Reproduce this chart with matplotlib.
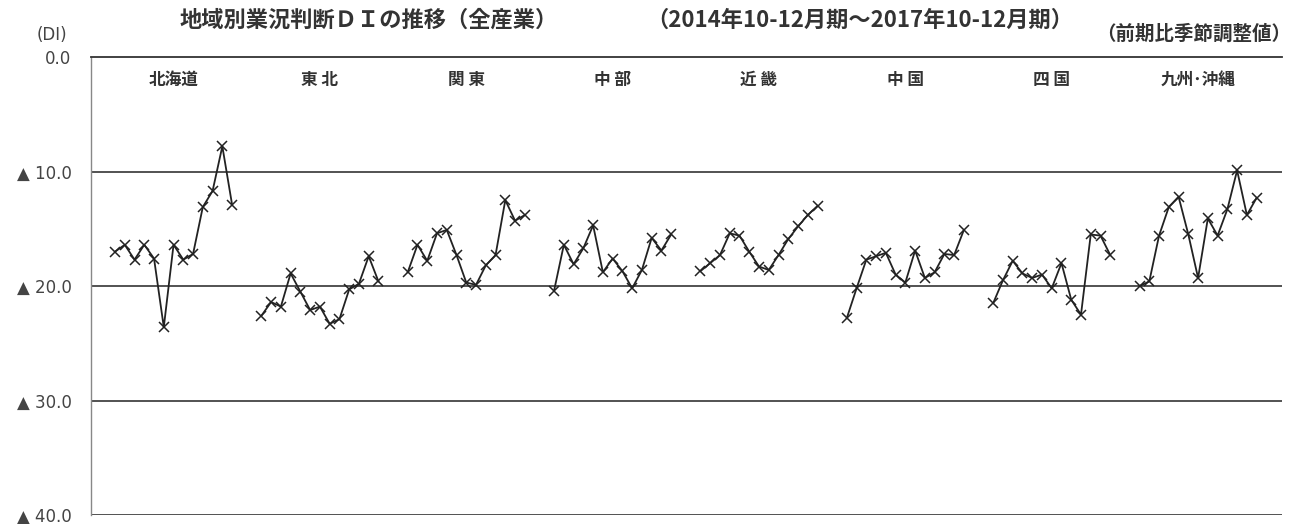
import matplotlib
matplotlib.use("Agg")
import matplotlib.pyplot as plt
from matplotlib.ticker import FixedLocator

plt.rcParams['font.family'] = ['Noto Sans CJK JP', 'DejaVu Sans']

# Regions and quarterly business conditions DI (2014 Q4 .. 2017 Q4, seasonally adjusted)
regions = ["北海道", "東 北", "関 東", "中 部", "近 畿", "中 国", "四 国", "九州･沖縄"]

hokkaido = [-17.0, -16.4, -17.7, -16.4, -17.6, -23.6, -16.4, -17.7, -17.2, -13.1, -11.7, -7.8, -12.9]
tohoku   = [-22.6, -21.4, -21.8, -18.9, -20.5, -22.1, -21.8, -23.3, -22.9, -20.3, -19.8, -17.4, -19.6]
kanto    = [-18.8, -16.4, -17.8, -15.4, -15.1, -17.3, -19.7, -19.9, -18.2, -17.3, -12.5, -14.3, -13.8]
chubu    = [-20.4, -16.4, -18.1, -16.7, -14.7, -18.8, -17.6, -18.7, -20.2, -18.6, -15.8, -16.9, -15.5]
kinki    = [-18.7, -18.0, -17.3, -15.4, -15.6, -17.0, -18.3, -18.6, -17.3, -15.9, -14.8, -13.8, -13.0]
chugoku  = [-22.8, -20.2, -17.7, -17.4, -17.1, -19.0, -19.7, -16.9, -19.3, -18.8, -17.2, -17.3, -15.1]
shikoku  = [-21.5, -19.5, -17.8, -18.9, -19.3, -19.0, -20.2, -18.0, -21.2, -22.5, -15.5, -15.6, -17.3]
kyushu   = [-20.0, -19.6, -15.6, -13.1, -12.2, -15.5, -19.3, -14.1, -15.6, -13.3, -9.9, -13.8, -12.3]

series = [hokkaido, tohoku, kanto, chubu, kinki, chugoku, shikoku, kyushu]

y_ticks = [0, -10, -20, -30, -40]
y_tick_labels = ["0.0", "▲ 10.0", "▲ 20.0", "▲ 30.0", "▲ 40.0"]

SLOTS = 15  # category slots reserved per region (13 quarters + gap)

fig = plt.figure(figsize=(12.95, 5.24), dpi=100)
ax = fig.add_axes([91/1295, 1 - 515/524, (1282 - 91)/1295, (515 - 57)/524])

for i, vals in enumerate(series):
    xs = [i * SLOTS + j for j in range(len(vals))]
    ax.plot(xs, vals, color="#222222", lw=1.3, marker="x", ms=7, mew=1.1, mec="#222222")
    ax.text(i * SLOTS + 6, -2.0, regions[i], ha="center", va="center",
            fontsize=12, fontweight="bold", color="#333333")

ax.set_xlim(-2.46, 119.6)
ax.set_ylim(-40, 0)
ax.yaxis.set_major_locator(FixedLocator(y_ticks))
ax.set_yticklabels(y_tick_labels, fontsize=12, color="#444444",
                   family=['DejaVu Sans'])
ax.tick_params(axis="y", length=0, pad=14)
ax.set_xticks([])

for v in [-10, -20, -30, -40]:
    ax.axhline(v, color="#444444", lw=1.3, zorder=0)

for side in ["right", "bottom"]:
    ax.spines[side].set_visible(False)
ax.spines["top"].set_color("#333333")
ax.spines["top"].set_linewidth(1.3)
ax.spines["left"].set_color("#888888")
ax.spines["left"].set_linewidth(1.0)

fig.text(52/1295, 1 - 35/524, "(DI)", ha="center", va="center", fontsize=12,
         color="#444444", family=['DejaVu Sans'])
fig.text(180/1295, 1 - 20/524, "地域別業況判断ＤＩの推移（全産業）", ha="left",
         va="center", fontsize=16, fontweight="bold", color="#333333")
fig.text(646/1295, 1 - 20/524, "（2014年10-12月期～2017年10-12月期）", ha="left",
         va="center", fontsize=16, fontweight="bold", color="#333333")
fig.text(1291/1295, 1 - 34/524, "（前期比季節調整値）", ha="right",
         va="center", fontsize=14, fontweight="bold", color="#333333")

fig.savefig("out.png", dpi=100)
